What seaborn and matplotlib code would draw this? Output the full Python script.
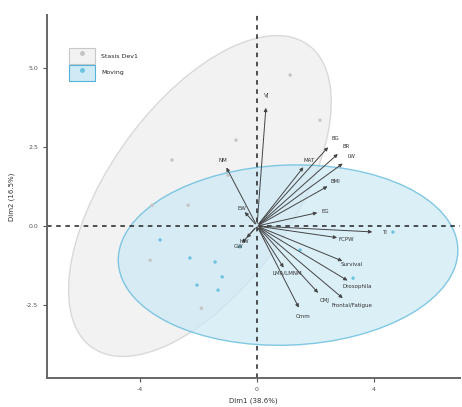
import matplotlib
matplotlib.use("Agg")
import matplotlib.pyplot as plt
from matplotlib.patches import Ellipse, Rectangle
from matplotlib.lines import Line2D
import pandas as pd
import seaborn as sns

# groups and their individuals (PCA scores)
GROUPS = ["Stasis Dev1", "Moving"]
grey_x = [1.13, -2.90, -2.35, -3.58, -0.72, 2.15, -0.99, -3.65, -1.90]
grey_y = [4.78, 2.09, 0.66, 0.66, 2.72, 3.35, 1.61, -1.08, -2.60]
blue_x = [-2.29, -1.43, -1.19, -1.33, -2.05, -0.58, 4.64, 3.28, 1.47, -3.31]
blue_y = [-1.01, -1.14, -1.61, -2.03, -1.87, -0.66, -0.19, -1.65, -0.76, -0.44]

# concentration ellipses: centre x, centre y, width, height, angle
ell_grey = [-1.95, 0.95, 12.1, 6.1, 51]
ell_blue = [1.06, -0.92, 11.6, 5.7, 2]

# variable loadings
var_names = ["VJ", "NM", "EW", "GW", "HW", "MAT", "BG", "BR", "LW", "BMI",
             "EG", "TI", "FCPW", "Survival", "Drosophila", "Frontal/Fatigue",
             "CMJ", "Cmm", "LMA/LMNM"]
var_x = [0.31, -1.09, -0.48, -0.58, -0.41, 1.64, 2.49, 2.83, 3.00, 2.49,
         2.15, 4.03, 2.83, 3.00, 3.17, 3.00, 2.15, 1.47, 0.96]
var_y = [3.83, 1.93, 0.51, -0.60, -0.44, 1.93, 2.56, 2.34, 2.03, 1.30,
         0.44, -0.19, -0.38, -1.14, -1.77, -2.34, -2.18, -2.66, -1.39]

x_ticks = [-4, 0, 4]
y_ticks = [-2.5, 0.0, 2.5, 5.0]

GREY = "#c4c4c4"
BLUE = "#6cc3e0"

sns.set_theme(style="white")
plt.rcParams["font.family"] = ["DejaVu Sans"]

fig = plt.figure(figsize=(4.62, 4.07), dpi=100)
ax = fig.add_axes([47 / 462, 1 - 378 / 407, 413 / 462, 363 / 407])

for (cx, cy, w, h, a), fc, ec in [(ell_grey, "#ededed", "#cccccc"),
                                  (ell_blue, "#cce9f5", "#52b4da")]:
    ax.add_patch(Ellipse((cx, cy), w, h, angle=a, facecolor=fc, edgecolor=ec,
                         alpha=0.7, linewidth=1.0, zorder=1))

pts = pd.DataFrame({
    "x": grey_x + blue_x,
    "y": grey_y + blue_y,
    "group": [GROUPS[0]] * len(grey_x) + [GROUPS[1]] * len(blue_x),
})
sns.scatterplot(data=pts, x="x", y="y", hue="group", palette=[GREY, BLUE],
                s=6, linewidth=0, legend=False, ax=ax, zorder=3)

ax.axhline(0, color="#222222", linestyle=(0, (3, 3)), linewidth=1.1, zorder=2)
ax.axvline(0, color="#222222", linestyle=(0, (3, 3)), linewidth=1.1, zorder=2)

for name, vx, vy in zip(var_names, var_x, var_y):
    ax.annotate("", xy=(vx, vy), xytext=(0, 0),
                arrowprops=dict(arrowstyle="-|>", color="#444444", lw=0.7,
                                mutation_scale=5), zorder=4)
    ax.text(vx * 1.08, vy * 1.08, name, fontsize=4, color="#333333",
            ha="center", va="center", zorder=5)

ax.set_xlim(-7.17, 6.93)
ax.set_ylim(-4.81, 6.68)
ax.set_xticks(x_ticks)
ax.set_yticks(y_ticks)
ax.set_xticklabels([str(t) for t in x_ticks])
ax.set_yticklabels([f"{t:.1f}" for t in y_ticks])
ax.tick_params(axis="both", labelsize=4.5, colors="#555555", length=3, width=0.8,
               direction="out", bottom=True, left=True)
ax.set_xlabel("Dim1 (38.6%)", fontsize=5, color="#333333", labelpad=4)
ax.set_ylabel("Dim2 (16.5%)", fontsize=5, color="#333333", labelpad=8)

for side in ["top", "right"]:
    ax.spines[side].set_visible(False)
for side in ["left", "bottom"]:
    ax.spines[side].set_color("#666666")
    ax.spines[side].set_linewidth(1.4)

handles = [
    (Rectangle((0, 0), 1, 1, facecolor="#f2f2f2", edgecolor="#c8c8c8", lw=0.8),
     Line2D([], [], marker="o", color=GREY, linestyle="", markersize=2.5)),
    (Rectangle((0, 0), 1, 1, facecolor="#cfeaf5", edgecolor="#52b4da", lw=0.8),
     Line2D([], [], marker="o", color=BLUE, linestyle="", markersize=2.5)),
]
ax.legend(handles, GROUPS, loc="upper left", bbox_to_anchor=(66 / 462, 1 - 45 / 407),
          bbox_transform=fig.transFigure, frameon=False, fontsize=4.5,
          handlelength=4.2, handleheight=3.6, labelspacing=0.05, handletextpad=0.9,
          borderpad=0)

fig.savefig("out.png", dpi=100, facecolor="white")
